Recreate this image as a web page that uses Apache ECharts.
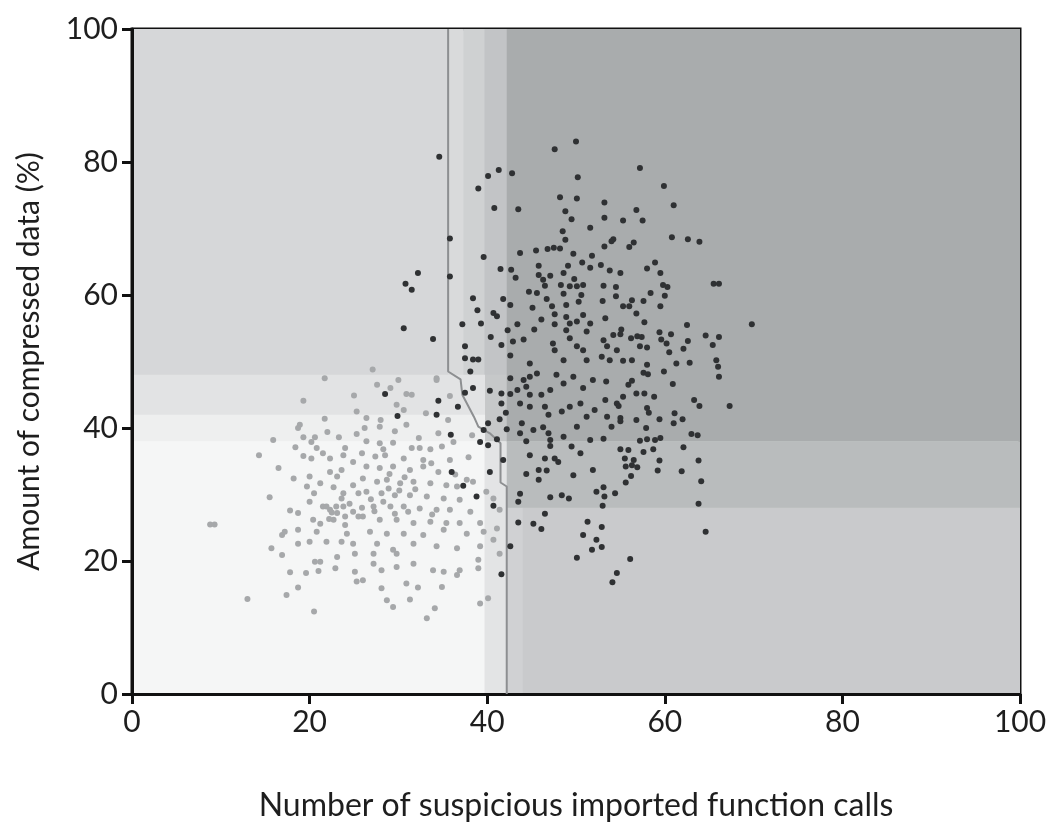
<!DOCTYPE html>
<html>
<head>
<meta charset="utf-8">
<script src="https://cdn.jsdelivr.net/npm/echarts@6/dist/echarts.min.js"></script>
<style>
  html, body { margin: 0; padding: 0; background: #fff; }
  #chart { width: 1052px; height: 832px; }
</style>
</head>
<body>
<div id="chart"></div>
<script>
var xTicks = [0, 20, 40, 60, 80, 100];
var yTicks = [0, 20, 40, 60, 80, 100];

// decision regions: [x0, y0, x1, y1]
var regions = [
    [0, 48, 35.6, 100],
    [35.6, 48, 37.3, 100],
    [37.3, 48, 39.7, 100],
    [39.7, 48, 42.2, 100],
    [39.7, 38, 42.2, 48],
    [0, 42, 39.7, 48],
    [0, 38, 39.7, 42],
    [0, 0, 39.7, 38],
    [39.7, 0, 42.2, 38],
    [42.2, 38, 100, 100],
    [42.2, 28, 100, 38],
    [42.2, 0, 44.0, 28],
    [44.0, 0, 100, 28]
];
var regionColors = ['#d6d7d9', '#d9dadb', '#cfd1d2', '#c2c4c6', '#c6c8c9', '#e2e3e4',
    '#eeefef', '#f5f6f6', '#e3e4e5', '#a9acad', '#b9bcbd', '#d0d1d3', '#c9cacc'];

// boundary between the two classes
var boundary = [
    [35.6, 100], [35.6, 48.5], [37.0, 47.3], [37.2, 45.0], [38.5, 41.7], [39.0, 40.2],
    [40.3, 39.2], [41.5, 37.7], [41.5, 31.8], [42.2, 31.2], [42.2, 0]
];

// benign-looking samples (light dots)
var lightPts = [
    [21.7, 47.5], [25.0, 44.9], [19.3, 44.1], [25.3, 42.5], [21.7, 41.4], [18.9, 40.5], [18.7, 40.0],
    [22.0, 39.4], [23.3, 38.6], [25.3, 39.1], [19.3, 38.6], [20.6, 38.6], [15.9, 38.2], [20.2, 37.9],
    [18.4, 37.1], [20.8, 37.0], [24.0, 37.0], [21.5, 36.2], [14.3, 35.9], [19.3, 35.8], [20.2, 35.4],
    [22.3, 35.4], [23.8, 35.9], [24.9, 34.9], [16.5, 34.0], [22.3, 33.4], [23.6, 33.7], [18.2, 32.4],
    [20.0, 32.7], [23.1, 32.7], [19.7, 31.2], [21.2, 31.7], [22.7, 31.1], [24.9, 31.4], [15.5, 29.6],
    [20.5, 30.2], [23.8, 30.2], [20.0, 28.9], [21.5, 28.2], [22.3, 27.7], [23.1, 27.2], [23.8, 28.2],
    [17.8, 27.6], [18.7, 27.2], [22.7, 26.2], [24.0, 26.7], [24.9, 27.4], [8.8, 25.5], [9.3, 25.5],
    [20.4, 26.2], [21.2, 25.6], [16.9, 23.9], [17.2, 24.4], [18.7, 24.7], [20.8, 24.4], [24.0, 25.4],
    [15.7, 21.9], [16.9, 20.9], [18.7, 22.6], [20.0, 22.9], [21.9, 22.9], [23.1, 20.6], [23.6, 22.9],
    [24.9, 22.6], [25.1, 21.1], [20.6, 19.9], [21.2, 19.9], [21.0, 18.5], [17.8, 18.3], [19.6, 18.2],
    [22.9, 18.9], [25.1, 18.4], [25.3, 16.9], [18.7, 16.0], [17.4, 14.9], [13.0, 14.3], [20.5, 12.4],
    [21.9, 28.2], [22.5, 27.3], [22.2, 26.3], [23.0, 28.2], [23.6, 29.4], [24.5, 28.6], [24.2, 24.1],
    [25.5, 30.2], [25.5, 26.7],
    [27.1, 48.8], [30.0, 47.2], [27.6, 46.5], [34.3, 47.5], [30.9, 45.1], [31.5, 45.0], [29.8, 43.5],
    [30.6, 42.7], [26.4, 41.5], [28.0, 41.2], [35.6, 41.2], [26.2, 40.0], [27.9, 40.2], [29.6, 39.5],
    [30.9, 40.5], [34.5, 39.2], [26.4, 38.0], [27.9, 37.7], [29.4, 37.8], [31.5, 37.0], [32.4, 37.0],
    [33.6, 36.8], [34.9, 37.2], [25.9, 36.2], [27.4, 35.7], [28.5, 35.9], [30.6, 35.4], [32.8, 35.2],
    [33.7, 34.7], [35.8, 35.2], [26.4, 34.2], [27.9, 34.0], [29.4, 34.2], [31.3, 33.7], [32.8, 34.2],
    [34.5, 33.4], [26.0, 32.4], [27.6, 31.9], [28.7, 32.2], [30.2, 31.7], [31.7, 31.9], [33.6, 31.7],
    [35.4, 31.4], [36.6, 31.2], [38.4, 31.9], [26.4, 30.4], [28.1, 30.2], [29.6, 29.9], [31.3, 29.9],
    [33.2, 29.7], [35.1, 29.4], [36.9, 29.2], [39.9, 30.4], [27.2, 28.2], [29.1, 28.2], [30.6, 28.2],
    [32.4, 27.9], [34.3, 27.7], [35.8, 27.7], [38.1, 27.4], [26.0, 26.7], [27.9, 26.2], [29.8, 26.2],
    [31.7, 25.7], [33.6, 25.9], [35.4, 25.7], [36.9, 25.7], [39.2, 25.7], [26.8, 24.4], [28.7, 24.1],
    [30.6, 24.1], [32.8, 23.9], [35.1, 24.7], [37.7, 24.1], [39.6, 24.4], [40.7, 23.2], [27.6, 22.6],
    [29.4, 21.7], [31.7, 22.6], [34.3, 22.2], [36.6, 21.9], [39.2, 22.2], [27.2, 21.1], [29.8, 21.1],
    [39.0, 20.2], [27.2, 19.6], [28.1, 18.6], [29.8, 19.1], [31.7, 19.6], [33.9, 18.6], [35.1, 18.4],
    [36.6, 17.9], [36.9, 18.6], [39.0, 18.9], [26.0, 17.1], [28.1, 15.9], [30.9, 16.6], [32.2, 16.0],
    [34.9, 16.1], [28.7, 14.1], [29.4, 13.1], [31.3, 14.2], [34.1, 12.9], [33.2, 11.4], [40.1, 14.4],
    [39.2, 13.6], [34.3, 47.2], [41.4, 27.7], [41.1, 24.9], [41.4, 21.1], [40.7, 29.4], [37.7, 32.2],
    [28.9, 30.9], [30.1, 30.6], [31.9, 30.8], [26.9, 29.3], [28.3, 28.9], [29.6, 27.1], [31.1, 27.4],
    [33.8, 27.0], [27.3, 27.5], [25.9, 28.0], [29.0, 33.1], [30.7, 32.6], [28.3, 36.8], [32.3, 38.5],
    [36.4, 33.0], [37.9, 35.6], [36.2, 37.9], [38.3, 38.9], [33.1, 42.2], [35.8, 44.8], [29.1, 46.0]
];

// malicious-looking samples (dark dots)
var darkPts = [
    [34.6, 80.8], [50.0, 83.1], [47.6, 81.9], [41.3, 78.8], [40.1, 77.9], [42.8, 78.3], [50.2, 77.7],
    [39.0, 76.0], [48.2, 74.7], [50.1, 74.5], [40.8, 73.1], [43.5, 72.9], [48.8, 72.6], [49.5, 71.4],
    [51.6, 70.1], [48.5, 69.6], [48.8, 68.3], [35.8, 68.5], [35.8, 62.8], [39.6, 65.7], [43.7, 66.3],
    [45.5, 66.7], [46.8, 66.9], [47.5, 67.1], [48.2, 67.0], [49.7, 66.2], [51.8, 65.9], [50.7, 64.9],
    [51.6, 64.1], [45.8, 64.4], [49.1, 64.4], [41.5, 63.9], [42.7, 63.8], [43.2, 62.6], [45.8, 63.0],
    [47.1, 62.9], [48.6, 63.3], [49.8, 62.4], [46.3, 62.3], [46.5, 61.4], [48.3, 61.5], [49.3, 61.3],
    [50.1, 61.3], [50.8, 61.5], [44.7, 60.5], [45.6, 60.3], [48.6, 60.2], [50.6, 60.0], [38.4, 59.5],
    [41.8, 59.4], [42.6, 58.5], [46.7, 59.4], [47.3, 58.3], [45.1, 58.1], [48.9, 58.5], [50.3, 59.0],
    [38.9, 57.7], [40.7, 57.3], [41.1, 56.8], [47.6, 57.1], [48.9, 56.7], [50.8, 57.0], [37.2, 55.6],
    [39.3, 55.7], [43.4, 55.6], [46.1, 56.3], [47.6, 55.6], [49.3, 55.7], [50.1, 56.0], [51.6, 55.7],
    [42.3, 54.7], [45.3, 54.8], [48.9, 54.7], [51.2, 54.5], [33.9, 53.4], [40.4, 53.7], [42.9, 53.0],
    [44.1, 53.3], [41.6, 52.5], [47.4, 52.7], [47.6, 51.7], [49.3, 53.5], [50.1, 52.3], [50.8, 51.7],
    [37.5, 52.3], [37.5, 50.5], [38.4, 50.3], [39.0, 50.3], [42.6, 50.9], [44.8, 49.7], [48.6, 50.2],
    [51.2, 50.2],
    [57.2, 79.1], [59.9, 76.4], [53.2, 73.9], [61.0, 73.5], [56.8, 72.8], [53.2, 71.6], [55.3, 71.2],
    [57.5, 71.2], [54.2, 68.4], [54.0, 68.1], [56.5, 67.9], [56.0, 67.2], [53.2, 67.3], [60.8, 68.7],
    [62.6, 68.4], [63.9, 68.0], [52.8, 64.5], [53.8, 63.7], [55.0, 63.3], [58.0, 64.0], [58.9, 64.9],
    [59.5, 63.3], [53.1, 61.4], [54.5, 61.2], [59.8, 61.5], [60.3, 61.2], [60.0, 59.9], [58.4, 60.3],
    [54.5, 59.8], [53.0, 59.1], [56.3, 59.2], [57.6, 59.1], [65.5, 61.7], [66.1, 61.7], [55.3, 58.3],
    [56.0, 58.3], [59.5, 58.3], [56.8, 57.2], [53.3, 56.5], [57.7, 55.9], [62.5, 55.5], [69.8, 55.6],
    [55.1, 54.8], [55.0, 54.1], [54.2, 54.0], [56.9, 53.8], [57.4, 53.7], [59.4, 54.4], [60.7, 54.1],
    [56.2, 53.5], [59.6, 53.3], [60.2, 52.7], [62.6, 53.1], [64.6, 53.9], [66.1, 53.7], [65.4, 52.5],
    [53.1, 53.2], [53.5, 52.3], [57.2, 52.3], [58.0, 52.1], [54.6, 51.7], [62.1, 51.9], [60.5, 51.4],
    [52.9, 50.7], [53.8, 50.2], [55.3, 50.1], [56.3, 50.2], [58.0, 49.5], [61.3, 49.7], [62.8, 49.8],
    [65.8, 50.2], [66.0, 49.2],
    [53.4, 47.0], [55.9, 46.5], [56.3, 47.1], [57.6, 48.3], [58.1, 48.1], [59.9, 48.5], [60.9, 46.6],
    [66.1, 47.7], [55.3, 44.7], [56.8, 45.2], [57.7, 45.2], [58.8, 44.7], [63.3, 44.2], [63.9, 43.3],
    [67.3, 43.3], [53.3, 44.2], [54.6, 43.7], [54.8, 43.3], [53.5, 41.7], [55.0, 41.5], [55.0, 41.0],
    [58.0, 43.0], [58.2, 42.3], [56.8, 41.2], [59.4, 41.3], [61.1, 42.2], [61.0, 40.7], [62.0, 41.3],
    [54.0, 40.2], [57.9, 40.0], [53.1, 38.4], [57.2, 38.1], [58.0, 38.3], [58.9, 38.2], [59.5, 38.5],
    [63.0, 39.1], [63.7, 38.9], [55.0, 36.8], [55.9, 36.7], [57.6, 36.4], [58.7, 36.8], [62.1, 37.1],
    [55.5, 35.4], [56.5, 35.2], [59.4, 35.1], [63.8, 35.1], [55.6, 34.2], [56.3, 34.4], [56.9, 34.1],
    [59.2, 33.6], [61.9, 33.5], [56.2, 32.8], [55.6, 31.8], [64.1, 32.0], [53.1, 31.1], [53.2, 29.7],
    [54.4, 30.2], [53.0, 28.3], [63.8, 28.6], [52.9, 25.1], [64.6, 24.4], [52.9, 22.1], [56.1, 20.3],
    [54.6, 18.2], [54.1, 16.8],
    [38.1, 48.5], [37.5, 45.3], [38.4, 46.0], [40.3, 45.6], [41.6, 45.2], [42.6, 45.1], [43.4, 45.7],
    [44.4, 46.2], [44.8, 45.0], [46.1, 45.0], [47.1, 45.7], [47.8, 48.0], [48.6, 46.7], [49.7, 47.7],
    [50.8, 46.0], [51.9, 47.2], [42.6, 47.5], [44.1, 47.2], [44.8, 47.7], [45.6, 48.2], [34.5, 44.1],
    [34.3, 42.0], [36.7, 43.2], [41.6, 43.7], [42.1, 42.3], [43.7, 43.7], [44.8, 43.2], [46.5, 43.2],
    [46.9, 42.0], [48.4, 42.5], [49.3, 43.2], [50.5, 43.7], [51.2, 41.7], [52.1, 42.7], [41.4, 41.3],
    [40.1, 40.7], [39.6, 39.7], [42.2, 39.8], [43.9, 40.7], [43.7, 39.2], [45.2, 39.7], [46.3, 40.1],
    [46.9, 39.2], [48.6, 38.7], [50.1, 40.2], [51.6, 38.2], [35.9, 39.0], [39.2, 37.9], [40.1, 37.4],
    [41.1, 38.3], [44.4, 38.0], [47.1, 38.2], [47.1, 37.3], [49.5, 37.2], [41.8, 35.2], [44.8, 35.9],
    [46.5, 35.4], [47.6, 35.4], [48.0, 34.9], [50.5, 36.2], [40.3, 33.4], [44.4, 33.1], [45.8, 33.7],
    [46.7, 33.6], [45.8, 32.2], [49.7, 32.9], [51.9, 33.7], [43.7, 30.1], [43.5, 28.9], [38.8, 29.7],
    [40.7, 28.3], [47.1, 29.6], [48.4, 29.9], [49.2, 29.4], [46.5, 27.1], [52.3, 30.4], [43.5, 25.8],
    [45.2, 25.6], [46.1, 24.8], [51.3, 25.9], [50.8, 23.9], [51.8, 21.7], [50.1, 20.5], [42.6, 22.2],
    [41.6, 18.0], [52.3, 23.2], [28.5, 45.1], [29.9, 41.8], [36.0, 33.4], [37.3, 31.3], [32.2, 63.3],
    [30.8, 61.7], [31.5, 60.8], [30.6, 55.0]
];

var chart = echarts.init(document.getElementById('chart'));

var labelFont = { fontFamily: 'Lato', fontSize: 30, color: '#1e1e1e' };

var option = {
    backgroundColor: '#ffffff',
    animation: false,
    grid: {
        left: 132,
        right: 32,
        top: 29,
        bottom: 138,
        show: true,
        borderColor: '#111',
        borderWidth: 3,
        backgroundColor: 'transparent'
    },
    xAxis: {
        type: 'value',
        min: 0,
        max: 100,
        interval: 20,
        name: 'Number of suspicious imported function calls',
        nameLocation: 'middle',
        nameGap: 96,
        nameTextStyle: { fontFamily: 'Lato', fontSize: 32, color: '#1e1e1e' },
        axisLine: { lineStyle: { color: '#111', width: 3 } },
        axisTick: { inside: false, length: 10, lineStyle: { color: '#111', width: 3 } },
        axisLabel: {
            margin: 13, fontFamily: labelFont.fontFamily, fontSize: labelFont.fontSize, color: labelFont.color,
            formatter: function (v) { return xTicks.indexOf(v) >= 0 ? String(v) : ''; }
        },
        splitLine: { show: false }
    },
    yAxis: {
        type: 'value',
        min: 0,
        max: 100,
        interval: 20,
        name: 'Amount of compressed data (%)',
        nameLocation: 'middle',
        nameGap: 88,
        nameTextStyle: { fontFamily: 'Lato', fontSize: 30, color: '#1e1e1e' },
        axisLine: { lineStyle: { color: '#111', width: 3 } },
        axisTick: { inside: false, length: 10, lineStyle: { color: '#111', width: 3 } },
        axisLabel: {
            margin: 14, fontFamily: labelFont.fontFamily, fontSize: labelFont.fontSize, color: labelFont.color,
            formatter: function (v) { return yTicks.indexOf(v) >= 0 ? String(v) : ''; }
        },
        splitLine: { show: false }
    },
    series: [
        {
            type: 'custom',
            z: 0,
            silent: true,
            clip: true,
            data: regions.map(function (r, i) { return [r[0], r[1], r[2], r[3], i]; }),
            encode: { x: [0, 2], y: [1, 3] },
            renderItem: function (params, api) {
                var p0 = api.coord([api.value(0), api.value(1)]);
                var p1 = api.coord([api.value(2), api.value(3)]);
                return {
                    type: 'rect',
                    shape: {
                        x: Math.min(p0[0], p1[0]),
                        y: Math.min(p0[1], p1[1]),
                        width: Math.abs(p1[0] - p0[0]) + 0.5,
                        height: Math.abs(p1[1] - p0[1]) + 0.5
                    },
                    style: { fill: regionColors[api.value(4)] }
                };
            }
        },
        {
            type: 'line',
            z: 1,
            data: boundary,
            symbol: 'none',
            silent: true,
            lineStyle: { color: '#8d8f91', width: 2 }
        },
        {
            type: 'scatter',
            z: 2,
            data: lightPts,
            symbolSize: 6,
            itemStyle: { color: '#a6a8aa', opacity: 1 }
        },
        {
            type: 'scatter',
            z: 3,
            data: darkPts,
            symbolSize: 6,
            itemStyle: { color: '#2f3133', opacity: 1 }
        }
    ]
};

chart.setOption(option);
window.onresize = chart.resize;
</script>
</body>
</html>
